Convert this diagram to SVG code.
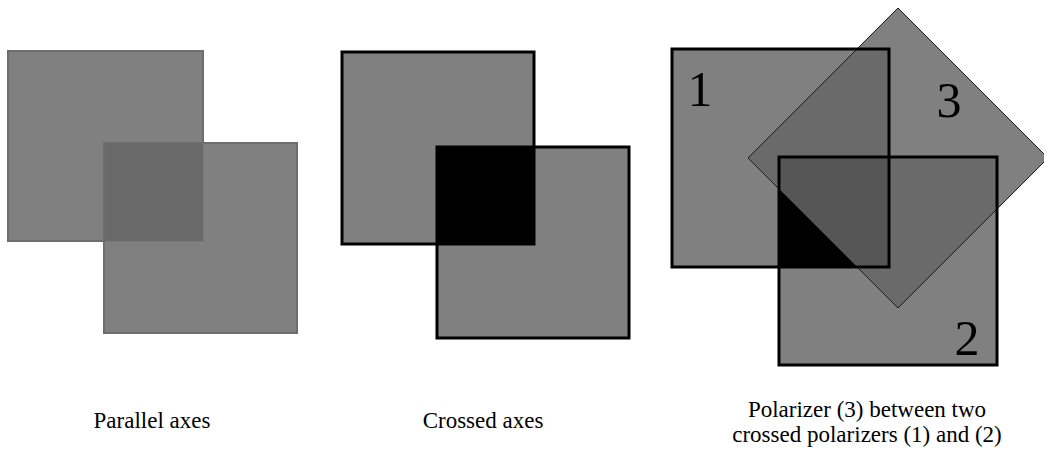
<svg xmlns="http://www.w3.org/2000/svg" width="1044" height="450" viewBox="0 0 1044 450">
<style>
.lbl{font-family:"Liberation Serif","Times New Roman",serif;font-size:23px;fill:#000;text-anchor:middle}
.num{font-family:"Liberation Serif","Times New Roman",serif;font-size:50px;fill:#000;text-anchor:middle}
.g{fill:#808080}
.p1{fill:#808080;stroke:#6e6e6e;stroke-width:2}
.blk{fill:none;stroke:#000;stroke-width:3}
</style>
<defs>
<clipPath id="dia"><polygon points="898,8 1048,158 898,308 748,158"/></clipPath>
</defs>
<rect width="1044" height="450" fill="#fff"/>
<g id="parallel">
<rect class="p1" x="8" y="51" width="195" height="190"/>
<rect class="p1" x="104" y="143" width="193" height="190"/>
<rect x="104" y="143" width="99" height="98" fill="#696969" stroke="#6e6e6e" stroke-width="1"/>
</g>
<g id="crossed">
<rect class="g" x="342" y="52" width="192" height="192"/>
<rect class="g" x="437" y="147" width="192" height="191"/>
<rect x="437" y="147" width="97" height="97" fill="#000"/>
<rect class="blk" x="342" y="52" width="192" height="192" stroke-width="2.5"/>
<rect class="blk" x="437" y="147" width="192" height="191" stroke-width="2.5"/>
</g>
<g id="three">
<polygon class="g" points="898,8 1048,158 898,308 748,158"/>
<rect class="g" x="672" y="49" width="217" height="218"/>
<rect class="g" x="779" y="157" width="218" height="208"/>
<g clip-path="url(#dia)">
<rect x="672" y="49" width="217" height="218" fill="#6a6a6a"/>
<rect x="779" y="157" width="218" height="208" fill="#6a6a6a"/>
<rect x="779" y="157" width="110" height="110" fill="#565656"/>
</g>
<polygon points="779,189 779,267 857,267" fill="#000"/>
<polygon points="898,8 1048,158 898,308 748,158" fill="none" stroke="#1a1a1a" stroke-width="1"/>
<rect class="blk" x="672" y="49" width="217" height="218"/>
<rect class="blk" x="779" y="157" width="218" height="208"/>
<text class="num" x="700" y="106">1</text>
<text class="num" x="949" y="117">3</text>
<text class="num" x="967" y="355">2</text>
</g>
<g id="labels">
<text class="lbl" x="152" y="428">Parallel axes</text>
<text class="lbl" x="483" y="428">Crossed axes</text>
<text class="lbl" x="867" y="417">Polarizer (3) between two</text>
<text class="lbl" x="867" y="442">crossed polarizers (1) and (2)</text>
</g>
</svg>
